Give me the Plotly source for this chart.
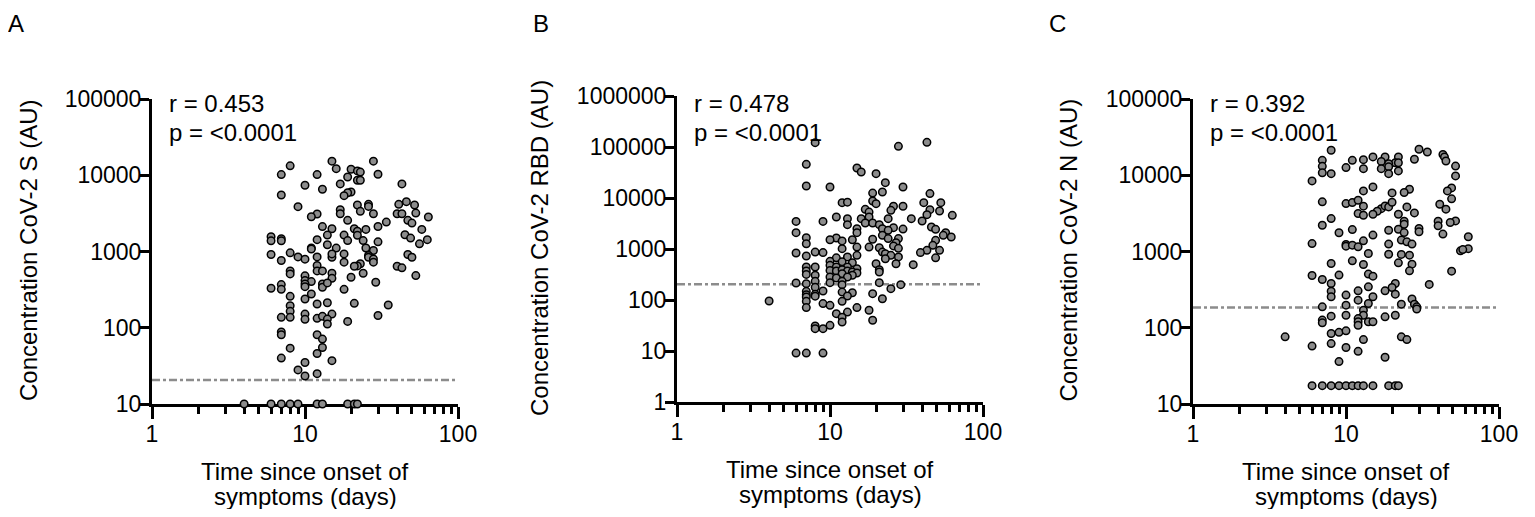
import plotly.graph_objects as go

# page size; the browser adds an 8px body margin around the figure
W, H = 1535, 517
PAGE_MARGIN = 8
FW, FH = W - 2 * PAGE_MARGIN, H - 2 * PAGE_MARGIN
FONT = "Liberation Sans, Arial, sans-serif"

# Panel A - CoV-2 S
a_days = [15, 28, 8, 16, 20, 22, 23, 7, 12, 30, 19, 22, 23, 17, 10, 43, 13, 20, 19, 18,
          7, 22, 26, 26, 41, 46, 52, 9, 23, 17, 17, 12, 11, 28, 40, 43, 53, 64, 34, 30,
          47, 50, 58, 19, 13, 15, 21, 22, 25, 22, 18, 14, 45, 49, 63, 56, 6, 6, 7, 7,
          12, 19, 24, 30, 14, 16, 11, 11, 25, 28, 26, 26, 28, 28, 6, 8, 9, 10, 12, 15,
          15, 18, 47, 50, 7, 18, 23, 22, 21, 40, 43, 53, 8, 8, 12, 12, 13, 24, 15, 15,
          20, 10, 10, 11, 10, 10, 7, 7, 6, 13, 13, 14, 29, 18, 11, 8, 10, 8, 12, 14,
          21, 35, 8, 8, 7, 10, 10, 12, 13, 15, 30, 14, 14, 19, 7, 7, 12, 13, 13, 8,
          12, 7, 15, 10, 9, 12, 10,
          4, 6, 7, 8, 9, 12, 13, 19, 21, 22]
a_conc = [15300, 15300, 13300, 12200, 12000, 11400, 11000, 10200, 10200, 10300, 9500, 8600, 8600, 7700, 7400, 7700, 6550, 6040, 5900, 5400,
          5500, 4070, 4150, 3900, 4150, 4500, 4070, 3870, 3360, 3530, 3130, 3100, 2860, 3130, 3130, 3130, 3190, 2830, 2430, 2130,
          2560, 2360, 1950, 2560, 2120, 1990, 1990, 1850, 1950, 1630, 1640, 1640, 1660, 1500, 1430, 1260, 1560, 1380, 1470, 1380,
          1430, 1390, 1390, 1340, 1225, 1108, 1110, 1080, 1110, 1030, 885, 840, 800, 724, 912, 960, 850, 793, 850, 840,
          930, 930, 912, 840, 762, 724, 690, 647, 640, 640, 610, 483, 557, 508, 655, 557, 557, 519, 519, 445,
          459, 479, 415, 403, 376, 346, 368, 319, 330, 376, 340, 387, 395, 319, 277, 258, 238, 195, 205, 213,
          209, 199, 164, 137, 137, 151, 129, 133, 141, 151, 145, 130, 112, 121, 88, 81, 81, 71, 55, 54,
          46, 40, 37, 35, 28, 25, 23.3,
          10, 10, 10, 10, 10, 10, 10, 10, 10, 10]

# Panel B - CoV-2 RBD
b_days = [8, 28, 43, 7, 15, 16, 20, 23, 7, 10, 30, 45, 19, 22, 19, 20, 12, 13, 41, 53,
          26, 30, 25, 17, 18, 52, 63, 45, 43, 11, 13, 16, 18, 24, 6, 9, 34, 40, 13, 17,
          19, 21, 22, 26, 15, 46, 49, 30, 24, 15, 6, 57, 19, 22, 24, 28, 27, 62, 55, 7,
          11, 10, 12, 14, 49, 7, 15, 18, 21, 26, 28, 12, 47, 52, 43, 39, 22, 23, 25, 28,
          23, 49, 6, 8, 9, 7, 11, 13, 15, 10, 12, 14, 20, 27, 35, 10, 7, 8, 11, 13,
          15, 21, 7, 10, 11, 12, 13, 14, 15, 21, 7, 8, 12, 14, 10, 11, 13, 8, 10, 12,
          21, 6, 7, 29, 12, 8, 25, 7, 9, 12, 14, 7, 8, 19, 13, 7, 8, 22, 4, 7,
          12, 9, 10, 7, 15, 18, 13, 11, 12, 12, 19, 8, 8, 9, 10, 6, 7, 9]
b_conc = [121700, 103000, 123500, 45700, 38700, 32300, 30000, 20000, 17200, 16400, 16400, 12200, 12500, 13100, 8730, 7740, 8100, 8290, 8100, 8100,
          6880, 6880, 5730, 6000, 5300, 5560, 4570, 5900, 4710, 4240, 3930, 3930, 4240, 3930, 3480, 3480, 3930, 3540, 3000, 3240,
          3240, 3000, 2500, 2620, 2500, 2700, 2430, 2460, 2320, 2090, 2090, 2090, 1550, 1850, 1600, 1600, 1330, 1720, 1850, 1670,
          1640, 1520, 1440, 1520, 1480, 1270, 1090, 1090, 1060, 1150, 1030, 1015, 1180, 940, 940, 850, 870, 810, 750, 700,
          645, 670, 835, 870, 850, 730, 670, 700, 750, 573, 560, 540, 515, 515, 493, 478, 444, 444, 444, 444,
          411, 394, 371, 380, 371, 394, 371, 354, 338, 354, 318, 305, 328, 305, 283, 270, 283, 232, 219, 232,
          219, 215, 209, 200, 200, 177, 167, 148, 150, 143, 139, 127, 129, 133, 120, 115, 119, 106, 95.5, 94,
          94, 85, 78.5, 71, 71, 63, 58, 54, 46, 37, 40, 31, 27.4, 27.4, 31.9, 9.1, 9.1, 9.1]

# Panel C - CoV-2 N
c_days = [8, 30, 34, 28, 43, 44, 45, 52, 52, 15, 18, 22, 13, 11, 7, 17, 21, 22, 19, 7,
          19, 17, 10, 13, 22, 7, 8, 19, 6, 15, 13, 26, 24, 20, 49, 46, 49, 7, 10, 11,
          12, 13, 17, 18, 19, 20, 25, 41, 45, 16, 15, 12, 13, 22, 28, 8, 24, 24, 40, 40,
          52, 48, 7, 11, 19, 22, 30, 30, 24, 43, 9, 15, 63, 6, 10, 10, 11, 12, 13, 19,
          23, 25, 27, 63, 56, 58, 14, 19, 23, 26, 11, 8, 13, 22, 27, 26, 49, 6, 9, 14,
          15, 7, 8, 35, 21, 20, 14, 8, 12, 18, 21, 8, 10, 15, 27, 12, 14, 10, 23, 28,
          29, 7, 29, 13, 13, 10, 8, 18, 21, 12, 12, 12, 14, 15, 7, 7, 9, 8, 10, 4,
          23, 25, 13, 8, 6, 10, 12, 18, 9,
          6, 7, 8, 9, 10, 11, 12, 13, 15, 19, 21, 22]
c_conc = [21300, 21900, 20200, 16200, 18700, 17400, 15400, 13200, 9800, 17400, 17400, 17400, 16000, 15700, 15700, 15200, 14600, 14600, 14200, 13100,
          12900, 12200, 12600, 12200, 11400, 10800, 10500, 10500, 8430, 7030, 6230, 6560, 5930, 5870, 6820, 6230, 4900, 4480, 4250, 4380,
          4700, 3930, 3650, 3960, 3840, 4430, 3840, 4170, 3590, 3370, 3080, 3150, 2990, 3080, 3210, 2700, 2490, 2280, 2490, 2170,
          2520, 2400, 2210, 1940, 1900, 1960, 2000, 1810, 1770, 1690, 1760, 1640, 1560, 1270, 1240, 1175, 1210, 1150, 1380, 1250,
          1410, 1340, 1250, 1090, 1020, 1060, 940, 920, 915, 895, 755, 697, 675, 710, 683, 558, 552, 485, 490, 505,
          475, 430, 381, 370, 381, 337, 344, 302, 305, 305, 276, 255, 268, 255, 238, 230, 208, 198, 204, 204,
          188, 188, 176, 170, 146, 146, 142, 139, 146, 132, 120, 108, 120, 120, 126, 116, 87, 84, 91, 76,
          76, 70, 70, 62, 57.5, 55, 49, 41, 36,
          17.4, 17.4, 17.4, 17.4, 17.4, 17.4, 17.4, 17.4, 17.4, 17.4, 17.4, 17.4]

# cutoff (dash-dot line) per antigen
a_cutoff = 20.7
b_cutoff = 203
c_cutoff = 185

x_ticks = [1, 10, 100]
x_minor = [2, 3, 4, 5, 6, 7, 8, 9, 20, 30, 40, 50, 60, 70, 80, 90]
a_yticks = [10, 100, 1000, 10000, 100000]
b_yticks = [1, 10, 100, 1000, 10000, 100000, 1000000]
c_yticks = [10, 100, 1000, 10000, 100000]

panels = [
    dict(letter="A", days=a_days, conc=a_conc, cutoff=a_cutoff, yticks=a_yticks,
         yrange=[1, 5], px=(152, 458, 99, 404), r="r = 0.453",
         ytitle="Concentration CoV-2 S (AU)", ytitle_x=28.5),
    dict(letter="B", days=b_days, conc=b_conc, cutoff=b_cutoff, yticks=b_yticks,
         yrange=[0, 6], px=(677, 983, 96, 402), r="r = 0.478",
         ytitle="Concentration CoV-2 RBD (AU)", ytitle_x=539),
    dict(letter="C", days=c_days, conc=c_conc, cutoff=c_cutoff, yticks=c_yticks,
         yrange=[1, 5], px=(1193, 1499, 99, 404), r="r = 0.392",
         ytitle="Concentration CoV-2 N (AU)", ytitle_x=1068),
]


def fx(p):
    return (p - PAGE_MARGIN) / FW


def fy(p):
    return 1 - (p - PAGE_MARGIN) / FH


fig = go.Figure()
annotations = []
layout_axes = {}

for i, p in enumerate(panels, start=1):
    sfx = "" if i == 1 else str(i)
    x0, x1, ytop, ybot = p["px"]

    fig.add_trace(go.Scatter(
        x=[x_ticks[0], x_ticks[-1]], y=[p["cutoff"], p["cutoff"]],
        mode="lines", line=dict(color="#8c8c8c", width=2.5, dash="8px,3px,3px,3px"),
        xaxis="x" + sfx, yaxis="y" + sfx, showlegend=False, hoverinfo="skip",
    ))
    fig.add_trace(go.Scatter(
        x=p["days"], y=p["conc"], mode="markers",
        marker=dict(size=7.5, color="#8c8c8c", line=dict(color="black", width=1.5)),
        cliponaxis=False, xaxis="x" + sfx, yaxis="y" + sfx, showlegend=False,
    ))

    layout_axes["xaxis" + sfx] = dict(
        domain=[fx(x0), fx(x1)], anchor="y" + sfx, type="log", range=[0, 2],
        tickvals=x_ticks, ticktext=[str(v) for v in x_ticks],
        ticks="outside", ticklen=12, tickwidth=2.5, tickcolor="black",
        ticklabelstandoff=-5, automargin=False,
        minor=dict(tickvals=x_minor, ticks="outside", ticklen=7, tickwidth=2.5,
                   tickcolor="black", showgrid=False),
        showline=True, linewidth=3, linecolor="black", layer="below traces",
        showgrid=False, zeroline=False,
        tickfont=dict(family=FONT, size=23, color="black"),
    )
    layout_axes["yaxis" + sfx] = dict(
        domain=[fy(ybot), fy(ytop)], anchor="x" + sfx, type="log", range=p["yrange"],
        tickvals=p["yticks"], ticktext=[str(v) for v in p["yticks"]],
        ticks="outside", ticklen=9, tickwidth=2.5, tickcolor="black",
        ticklabelstandoff=-6, automargin=False,
        showline=True, linewidth=3, linecolor="black", layer="below traces",
        showgrid=False, zeroline=False,
        tickfont=dict(family=FONT, size=23, color="black"),
    )

    cx = (x0 + x1) / 2
    annotations += [
        dict(text=p["letter"], x=fx(x0 - 145), y=fy(PAGE_MARGIN + 1), xanchor="left",
             yanchor="top", borderpad=0, font=dict(size=24)),
        dict(text=p["r"], x=fx(x0 + 15), y=fy(103), xanchor="left", yanchor="middle",
             font=dict(size=24)),
        dict(text="p = &lt;0.0001", x=fx(x0 + 15), y=fy(133), xanchor="left", yanchor="middle",
             font=dict(size=24)),
        dict(text="Time since onset of", x=fx(cx), y=fy(ybot + 67), xanchor="center",
             yanchor="middle", font=dict(size=24)),
        dict(text="symptoms (days)", x=fx(cx), y=fy(ybot + 92), xanchor="center",
             yanchor="middle", font=dict(size=24)),
        dict(text=p["ytitle"], x=fx(p["ytitle_x"]), y=fy((ytop + ybot) / 2 - 1),
             xanchor="center", yanchor="middle", textangle=-90, font=dict(size=24)),
    ]

for a in annotations:
    a.update(xref="paper", yref="paper", showarrow=False)
    a["font"].update(family=FONT, color="black")

fig.update_layout(
    template="none",
    width=FW, height=FH,
    margin=dict(l=0, r=0, t=0, b=0, pad=0, autoexpand=False),
    paper_bgcolor="white", plot_bgcolor="white",
    annotations=annotations,
    **layout_axes,
)

fig.write_html("out.html")
